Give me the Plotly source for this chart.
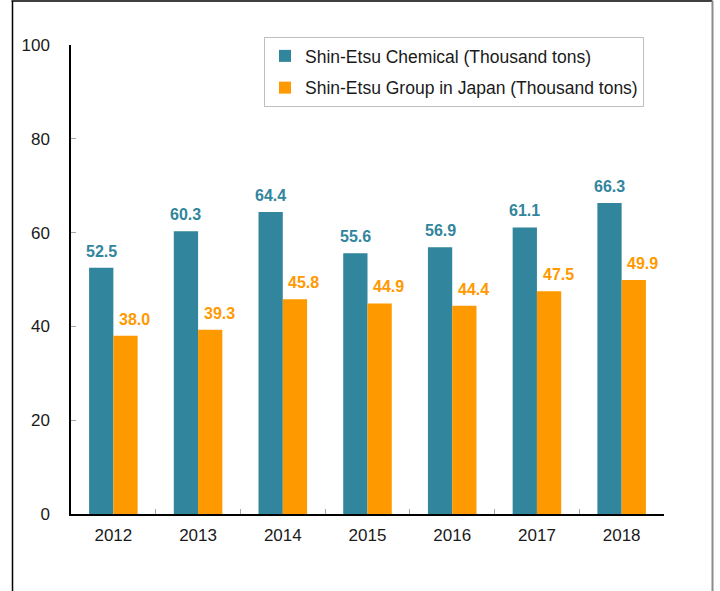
import plotly.graph_objects as go

years = ["2012", "2013", "2014", "2015", "2016", "2017", "2018"]
chemical = [52.5, 60.3, 64.4, 55.6, 56.9, 61.1, 66.3]
group_japan = [38.0, 39.3, 45.8, 44.9, 44.4, 47.5, 49.9]
series_names = ["Shin-Etsu Chemical (Thousand tons)", "Shin-Etsu Group in Japan (Thousand tons)"]
y_ticks = [0, 20, 40, 60, 80, 100]

TEAL = "#31859C"
ORANGE = "#FF9900"
FONT = "Arial, Liberation Sans, sans-serif"

L, R, T, B = 71, 56, 45, 77
W, H = 720, 591
pw = W - L - R
ph = H - T - B
BARGAP = 0.427
half_bar = pw / len(years) * (1 - BARGAP) / 4  # half of one bar width in px

def px_x(x):
    return (x - L) / pw

def px_y(y):
    return (H - B - y) / ph

fig = go.Figure()
annotations = []
for name, vals, col, grp, shift in [(series_names[0], chemical, TEAL, "a", -half_bar),
                                    (series_names[1], group_japan, ORANGE, "b", half_bar + 9)]:
    fig.add_trace(go.Bar(
        x=years, y=vals, name=name, legendgroup=grp,
        marker=dict(color=col, line=dict(width=0)),
    ))
    for i, v in enumerate(vals):
        annotations.append(dict(
            x=i, y=v, xref="x", yref="y", text=f"{v:.1f}", showarrow=False,
            xanchor="center", yanchor="bottom", xshift=shift, yshift=6,
            font=dict(family=FONT, size=16, color=col, weight="bold"),
        ))

fig.update_layout(
    width=W, height=H,
    margin=dict(l=L, r=R, t=T, b=B),
    paper_bgcolor="white", plot_bgcolor="white",
    barmode="group", bargap=BARGAP, bargroupgap=0,
    font=dict(family=FONT, size=17, color="#1a1a1a"),
    showlegend=True,
    legend=dict(
        x=px_x(264), y=px_y(37), xanchor="left", yanchor="top",
        bordercolor="#bfbfbf", borderwidth=1, bgcolor="white",
        font=dict(family=FONT, size=17.5, color="#1a1a1a"),
        tracegroupgap=6,
    ),
    xaxis=dict(
        type="category", showline=True, linecolor="black", linewidth=1.5,
        ticks="inside", tickson="boundaries", ticklen=5, tickcolor="#a6a6a6",
        showgrid=False, ticklabelstandoff=5, range=[-0.5, len(years) - 0.5],
        tickfont=dict(family=FONT, size=17, color="#1a1a1a"),
    ),
    yaxis=dict(
        range=[0, 100], tickvals=y_ticks, showline=True, linecolor="black", linewidth=1.5,
        ticks="inside", ticklen=5, tickcolor="#a6a6a6",
        showgrid=False, zeroline=False, ticklabelstandoff=16,
        tickfont=dict(family=FONT, size=17, color="#1a1a1a"),
    ),
    annotations=annotations,
    shapes=[
        dict(type="line", xref="paper", yref="paper", x0=px_x(12.5), x1=px_x(12.5),
             y0=px_y(1), y1=px_y(600), line=dict(color="black", width=1.5)),
        dict(type="line", xref="paper", yref="paper", x0=px_x(11.5), x1=px_x(712.5),
             y0=px_y(1), y1=px_y(1), line=dict(color="black", width=1.5)),
        dict(type="line", xref="paper", yref="paper", x0=px_x(712.5), x1=px_x(712.5),
             y0=px_y(1), y1=px_y(600), line=dict(color="#8c8c8c", width=2)),
    ],
)

fig.write_html("out.html", config={"displayModeBar": False},
               post_script="document.body.style.margin='0';document.body.style.overflow='hidden';")
